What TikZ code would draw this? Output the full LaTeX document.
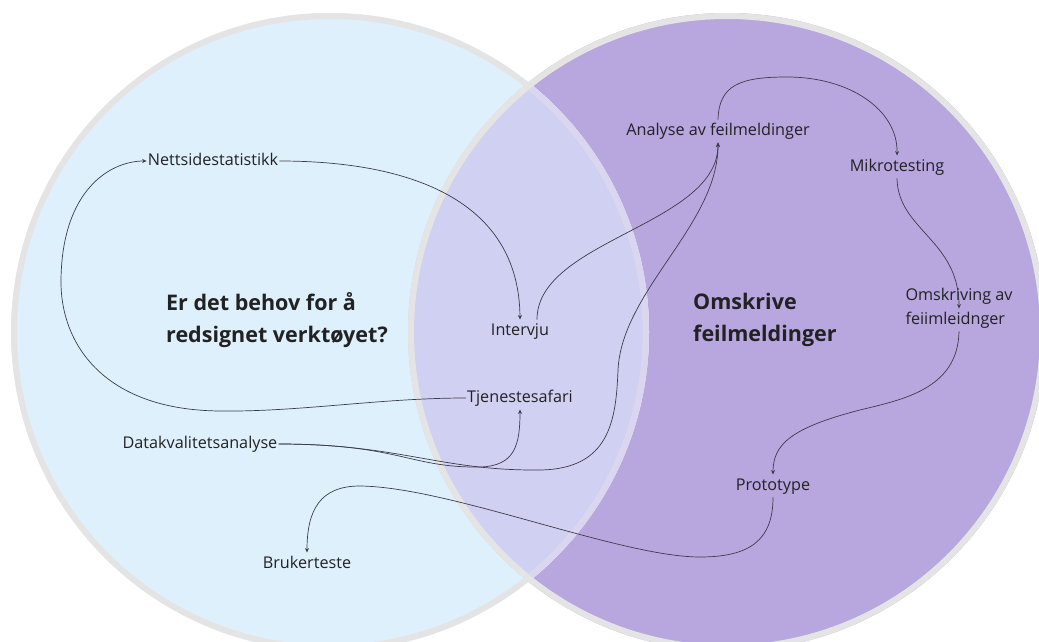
\documentclass[tikz,border=0pt]{standalone}
\usepackage{fontspec}
\setmainfont{Open Sans}
\usetikzlibrary{arrows.meta}
\definecolor{leftfill}{HTML}{DFF0FD}
\definecolor{rightfill}{HTML}{B8A6DF}
\definecolor{overfill}{HTML}{D0D0F2}
\definecolor{ringgray}{HTML}{E4E4E4}
\definecolor{ringlav}{HTML}{DAD6EF}
\definecolor{textc}{HTML}{222222}
\definecolor{linec}{HTML}{3C3C48}
\tikzset{
  lbl/.style={font=\fontsize{16.2}{24}\selectfont, text=textc, inner xsep=1pt, inner ysep=4pt, text height=11.5pt, text depth=3pt},
  ttl/.style={font=\fontsize{21.5}{32}\selectfont\bfseries, text=textc, inner sep=0pt, align=left, anchor=west},
  conn/.style={draw=linec, line width=0.7pt, -{Stealth[length=4.5pt,width=4pt]}},
  ring/.style={line width=6pt}
}
\begin{document}
\begin{tikzpicture}[x=1pt,y=-1pt]
\useasboundingbox (0,0) rectangle (1039,642);
\begin{scope}
\clip (0,0) rectangle (1039,642);
% circles
\fill[rightfill] (727,332) circle (319pt);
\fill[leftfill] (330,332) circle (319pt);
\begin{scope}
  \clip (727,332) circle (319pt);
  \fill[overfill] (330,332) circle (319pt);
\end{scope}
\draw[ring, ringgray] (727,332) circle (316pt);
\draw[ring, ringgray] (330,332) circle (316pt);
\begin{scope}
  \clip (727,332) circle (313pt);
  \draw[ring, ringlav] (330,332) circle (316pt);
\end{scope}
\end{scope}
% titles
\node[ttl] (t1) at (166,320) {Er det behov for å\\redsignet verktøyet?};
\node[ttl] (t2) at (693,320) {Omskrive\\feilmeldinger};
% labels
\node[lbl] (ns) at (213,161) {Nettsidestatistikk};
\node[lbl] (iv) at (520,331) {Intervju};
\node[lbl] (tj) at (520,398) {Tjenestesafari};
\node[lbl] (dk) at (200,444) {Datakvalitetsanalyse};
\node[lbl] (bt) at (307,564) {Brukerteste};
\node[lbl] (af) at (718,131) {Analyse av feilmeldinger};
\node[lbl] (mt) at (897,167) {Mikrotesting};
\node[lbl, align=left] (om) at (959,320) {Omskriving av\\feiimleidnger};
\node[lbl] (pt) at (773,486) {Prototype};
% connectors
\draw[conn] (tj.west) .. controls (380,398) and (300,412) .. (220,411)
  .. controls (100,410) and (60,340) .. (61,280)
  .. controls (62,190) and (110,161) .. (ns.west);
\draw[conn] (ns.east) .. controls (410,161) and (519,200) .. (iv.north);
\draw[conn] ([xshift=17pt]iv.north) .. controls (537,240) and (718,225) .. (af.south);
\draw[conn] (dk.east) .. controls (400,444) and (440,471) .. (540,470)
  .. controls (610,469) and (616,420) .. (618,370)
  .. controls (622,290) and (718,225) .. (af.south);
\draw[conn] (dk.east) .. controls (400,444) and (410,468) .. (480,467)
  .. controls (515,466) and (520,445) .. (tj.south);
\draw[conn] (af.north) .. controls (719,85) and (740,77) .. (787,77)
  .. controls (850,77) and (898,110) .. (mt.north);
\draw[conn] (mt.south) .. controls (898,230) and (959,240) .. (om.north);
\draw[conn] (om.south) .. controls (958,390) and (900,400) .. (860,410)
  .. controls (790,428) and (773,445) .. (pt.north);
\draw[conn] (pt.south) .. controls (773,540) and (750,557) .. (700,557)
  .. controls (620,557) and (450,487) .. (360,486)
  .. controls (320,486) and (307,510) .. (bt.north);
\end{tikzpicture}
\end{document}
